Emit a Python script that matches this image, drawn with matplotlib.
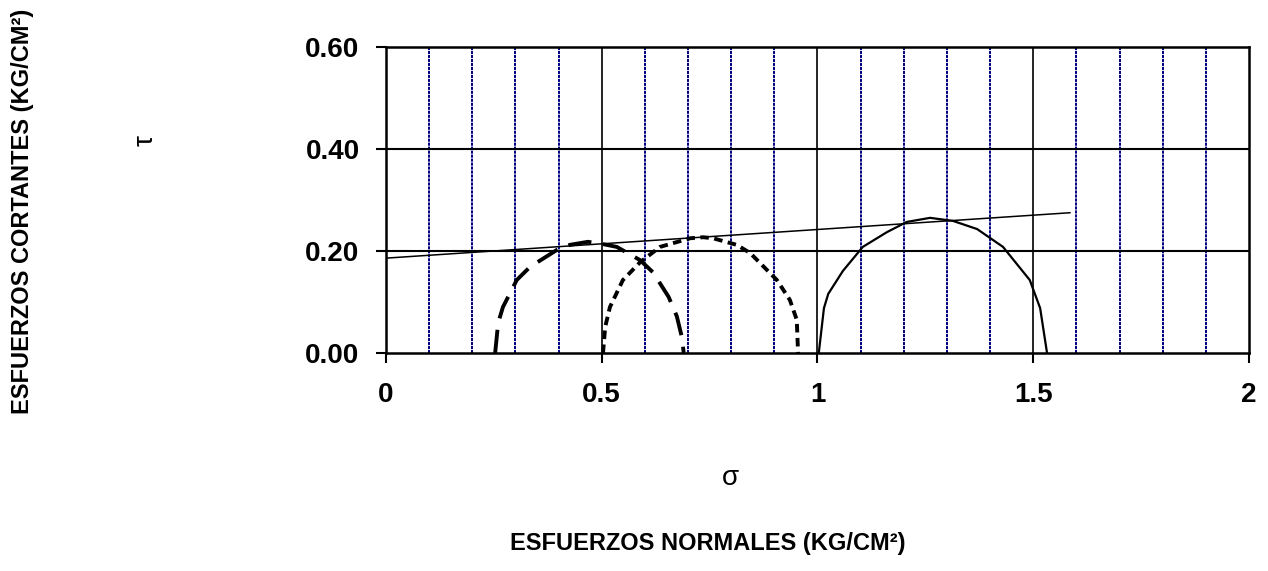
import numpy as np
import matplotlib
matplotlib.use('Agg')
import matplotlib.pyplot as plt

plt.rcParams['font.family'] = ['Liberation Sans', 'DejaVu Sans']

# Mohr circles (sigma, tau)
sig_c1 = [0.253, 0.26, 0.271, 0.303, 0.334, 0.396, 0.426, 0.468, 0.50, 0.535, 0.589, 0.619, 0.655, 0.674, 0.686, 0.69]
tau_c1 = [0.0, 0.059, 0.09, 0.143, 0.169, 0.202, 0.212, 0.218, 0.214, 0.208, 0.182, 0.158, 0.11, 0.072, 0.03, 0.0]

sig_c2 = [0.503, 0.508, 0.519, 0.549, 0.589, 0.635, 0.705, 0.735, 0.758, 0.813, 0.844, 0.906, 0.936, 0.952, 0.955]
tau_c2 = [0.0, 0.051, 0.09, 0.143, 0.178, 0.208, 0.225, 0.227, 0.225, 0.212, 0.196, 0.143, 0.104, 0.065, 0.0]

sig_c3 = [1.003, 1.015, 1.025, 1.059, 1.105, 1.161, 1.207, 1.261, 1.314, 1.37, 1.43, 1.492, 1.516, 1.532]
tau_c3 = [0.0, 0.088, 0.116, 0.161, 0.208, 0.237, 0.257, 0.265, 0.259, 0.243, 0.208, 0.143, 0.088, 0.0]

# failure envelope
sig_env = [0.0, 1.585]
tau_env = [0.186, 0.275]

x_major = [0, 0.5, 1, 1.5, 2]
x_minor = [0.1, 0.2, 0.3, 0.4, 0.6, 0.7, 0.8, 0.9, 1.1, 1.2, 1.3, 1.4, 1.6, 1.7, 1.8, 1.9]
y_ticks = [0.0, 0.2, 0.4, 0.6]

fig = plt.figure(figsize=(12.68, 5.71), dpi=100)
ax = fig.add_axes([0.3044, 0.3818, 0.6806, 0.5359])

for xv in x_minor:
    ax.axvline(xv, color='#000080', lw=1.4, ls=(0, (1.6, 0.45)), zorder=1)
for xv in x_major[1:-1]:
    ax.axvline(xv, color='black', lw=1.2, zorder=1)
for yv in y_ticks[1:-1]:
    ax.axhline(yv, color='black', lw=1.5, zorder=1)

ax.plot(sig_c1, tau_c1, color='black', lw=2.8, ls=(0, (6, 3)), dash_capstyle='butt', zorder=3)
ax.plot(sig_c2, tau_c2, color='black', lw=2.8, ls=(0, (2.2, 1.4)), dash_capstyle='butt', zorder=3)
ax.plot(sig_c3, tau_c3, color='black', lw=1.6, zorder=3)
ax.plot(sig_env, tau_env, color='black', lw=1.1, zorder=3)

ax.set_xlim(0, 2)
ax.set_ylim(0, 0.6)
ax.set_xticks(x_major)
ax.set_xticklabels(['0', '0.5', '1', '1.5', '2'])
ax.set_yticks(y_ticks)
ax.set_yticklabels(['%.2f' % v for v in y_ticks])
ax.tick_params(axis='both', direction='out', length=7, width=1.5, labelsize=20)
ax.tick_params(axis='y', pad=12)
ax.tick_params(axis='x', pad=14)
for lab in ax.get_xticklabels() + ax.get_yticklabels():
    lab.set_fontweight('bold')
for sp in ax.spines.values():
    sp.set_linewidth(1.8)

fig.text(0.018, 0.63, 'ESFUERZOS CORTANTES (KG/CM²)', rotation=90, fontsize=17,
         fontweight='bold', ha='center', va='center')
fig.text(0.115, 0.753, 'τ', rotation=90, fontsize=20, ha='center', va='center')
fig.text(0.576, 0.163, 'σ', fontsize=20, ha='center', va='center')
fig.text(0.558, 0.048, 'ESFUERZOS NORMALES (KG/CM²)', fontsize=17,
         fontweight='bold', ha='center', va='center')

fig.savefig('out.png', dpi=100)
